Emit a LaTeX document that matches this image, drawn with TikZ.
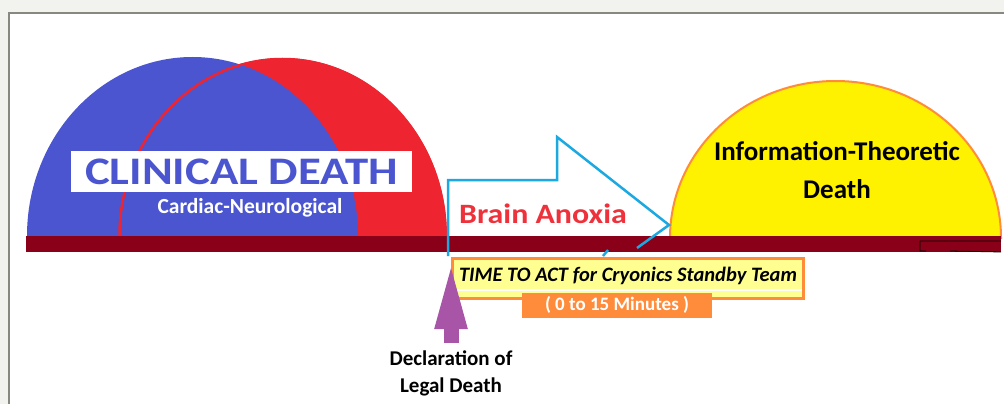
\documentclass[tikz,border=0pt]{standalone}
\usepackage{fontspec}
\usepackage{graphicx}
\setmainfont{Carlito}
\usetikzlibrary{arrows.meta}
\definecolor{pagegray}{RGB}{242,242,238}
\definecolor{framegray}{RGB}{136,136,128}
\definecolor{domeblue}{RGB}{74,85,207}
\definecolor{domered}{RGB}{238,37,48}
\definecolor{bardark}{RGB}{139,0,25}
\definecolor{itorange}{RGB}{255,140,58}
\definecolor{ityellow}{RGB}{255,242,0}
\definecolor{anoxiacyan}{RGB}{28,168,224}
\definecolor{legalpurple}{RGB}{168,85,168}
\definecolor{actyellow}{RGB}{255,255,145}
\definecolor{anoxiared}{RGB}{238,50,60}

\begin{document}
\begin{tikzpicture}[x=1pt,y=-1pt,node font=\bfseries,
fs/.style={font=\fontsize{#1}{#1}\selectfont\bfseries},
label/.style={inner sep=0pt,anchor=base,align=center},
>=Triangle]
\useasboundingbox (0,0) rectangle (1004,404);
\fill[pagegray] (0,0) rectangle (1004,404);
\fill[white] (8,12) rectangle (1004,404);
\draw[framegray,line width=2.5] (9,404) |- (1004,13);

\fill[domered] (118,236) arc[start angle=180,end angle=360,x radius=164.5,y radius=178];
\fill[domeblue] (27,236) arc[start angle=180,end angle=360,x radius=165.5,y radius=179];
\draw[domered,line width=2.5] (119.5,236) arc[start angle=180,end angle=360,x radius=163,y radius=177];
\filldraw[fill=ityellow,draw=itorange,line width=2] (670,238) arc[start angle=180,end angle=360,x radius=165.5,y radius=157] -- cycle;

\fill[bardark] (26,236) rectangle (1001,252) coordinate (barend);
\draw[black,line width=0.8] (barend |- 0,241) -| (920,251) -- (926,251) (950,251) -- (barend);

\begin{scope}[anoxiacyan,line width=2.5,line join=miter]
\coordinate (tail) at (448,256);
\coordinate (tip) at (669,225);
\draw (tail) -- (448,180) -- (557,180) -- (557,137) -- (tip) -- (637,248)
 (603,256) -- (608,250);
\end{scope}

\node[label,fs=39,text=domeblue,fill=white,minimum width=341pt,text height=34pt,text depth=7pt] (clinical) at (241.5,184.5) {\scalebox{1.2}[1]{CLINICAL DEATH}};
\node[label,fs=21.5,text=white] (cardiac) at (250,213.5) {Cardiac-Neurological};
\node[label,fs=28,text=anoxiared] (anoxia) at (543,223) {\scalebox{1.14}[1]{Brain Anoxia}};
\node[label,fs=27] (itdeath) at (837,198) {Information-Theoretic\\[11pt]Death};

\node[draw=itorange,fill=actyellow,line width=3,inner sep=0pt,minimum width=351pt,minimum height=40pt,
 text height=14pt,text depth=9pt,font=\fontsize{20.5}{20.5}\selectfont\bfseries\itshape] (acttime) at (628,278.5)
 {TIME TO ACT for Cryonics Standby Team};
\draw[white,line width=2,shorten <=3pt,shorten >=3pt] (acttime.west |- 0,290) -- (acttime.east |- 0,290);
\node[fill=itorange,text=white,inner sep=0pt,minimum width=190pt,minimum height=25pt,
 text height=14pt,text depth=5pt,fs=19] (minutes) at (617,305.5) {( 0 to 15 Minutes )};

\node[label,fs=21] (legal) at (451,392) {Declaration of\\[6pt]Legal Death};
\draw[legalpurple,line width=15,shorten <=7pt,-{Triangle[length=72pt,width=28pt]}] (legal.north) -- (legal.north |- acttime.north);
\end{tikzpicture}
\end{document}
